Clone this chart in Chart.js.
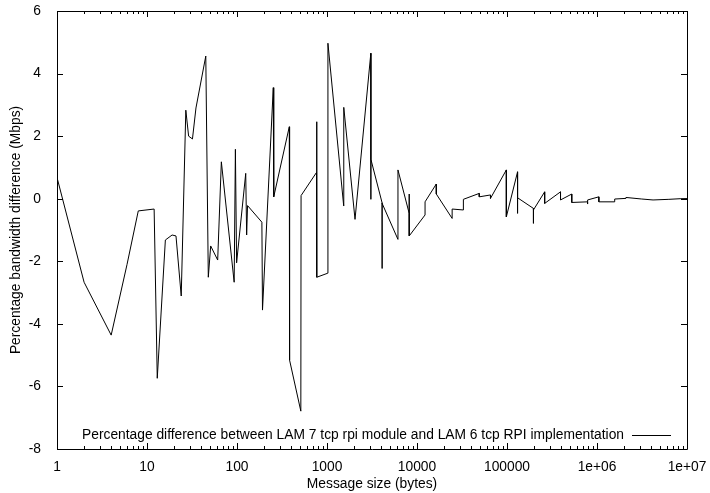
<!DOCTYPE html>
<html>
<head>
<meta charset="utf-8">
<script src="https://cdn.jsdelivr.net/npm/chart.js@4.4.1/dist/chart.umd.min.js"></script>
<style>
  html, body { margin: 0; padding: 0; background: #fff; }
  #wrap { width: 710px; height: 493px; }
</style>
</head>
<body>
<div id="wrap"><canvas id="grafico"></canvas></div>
<script>
// tamaños de mensaje (bytes) y diferencia porcentual
const tamanos = [1, 2, 4, 6, 8, 12, 13, 16, 19, 21, 24, 27, 29, 32, 35, 45, 48, 51, 61, 67,
  93, 96, 99, 125, 128, 131, 189, 192, 253, 256, 381, 384, 512, 515, 765, 768, 771,
  1021, 1024, 1533, 1536, 2048, 3069, 3072, 3075, 4093, 4096, 4099, 6141, 6144,
  8189, 8192, 8195, 12285, 12288, 16381, 16384, 24573, 24576, 32765, 32768,
  49149, 49152, 65533, 65536, 98301, 98304, 131069, 131072, 131075,
  196605, 196608, 196611, 262141, 262144, 393213, 393216, 524285, 524288,
  786429, 786432, 786435, 1048573, 1048576, 1572861, 1572864, 2097149, 2097152,
  3145728, 4194304, 6291456, 8388608, 12582912];

const diferencias = [0.68, -2.67, -4.36, -2.1, -0.39, -0.33, -5.74, -1.32, -1.16, -1.19, -3.11, 2.83, 2.0, 1.91, 2.9, 4.56, -2.51, -1.51, -1.96, 1.18,
  -2.67, 1.58, -2.05, 0.81, -1.16, -0.22, -0.75, -3.56, 3.55, 0.06, 2.3, -5.16, -6.79, 0.1, 0.84, 2.46, -2.51,
  -2.38, 4.97, -0.23, 2.92, -0.66, 4.65, -0.02, 1.26, -0.13, -2.23, -0.15, -1.3, 0.92,
  -0.47, 0.15, -1.19, -0.52, -0.1, 0.47, 0.15, -0.63, -0.33, -0.36, -0.02,
  0.17, 0.06, 0.12, 0.01, 0.92, -0.58, 0.86, -0.47, 0.03,
  -0.31, -0.79, -0.36, 0.22, -0.15, 0.22, -0.04, 0.15, -0.12,
  -0.1, -0.17, -0.04, 0.06, -0.1, -0.1, -0.01, 0.01, 0.04,
  -0.01, -0.04, -0.02, 0.0, 0.01];

const ticksX = [1, 10, 100, 1000, 10000, 100000, 1000000, 10000000];
const etiquetasX = ['1', '10', '100', '1000', '10000', '100000', '1e+06', '1e+07'];
const ticksY = [-8, -6, -4, -2, 0, 2, 4, 6];

const etiqueta = 'Percentage difference between LAM 7 tcp rpi module and LAM 6 tcp RPI implementation';
const fuente = { family: '"Liberation Sans", Arial, Helvetica, sans-serif', size: 13.8 };

// marco, marcas hacia adentro (estilo gnuplot) y leyenda dentro del area
const marcoPlugin = {
    id: 'marco',
    afterDraw(chart) {
        const ctx = chart.ctx;
        const a = chart.chartArea;
        const sx = chart.scales.x;
        const sy = chart.scales.y;
        ctx.save();
        ctx.strokeStyle = '#000';
        ctx.lineWidth = 1;
        ctx.beginPath();
        ctx.rect(Math.round(a.left) + 0.5, Math.round(a.top) + 0.5, Math.round(a.right - a.left), Math.round(a.bottom - a.top));
        ctx.stroke();

        ctx.beginPath();
        // marcas eje x (mayores y menores)
        for (let d = 0; d < 7; d++) {
            for (let m = 1; m <= 10; m++) {
                const v = m * Math.pow(10, d);
                const px = Math.round(sx.getPixelForValue(v)) + 0.5;
                const largo = (m === 1 || m === 10) ? 6 : 3;
                ctx.moveTo(px, a.bottom);
                ctx.lineTo(px, a.bottom - largo);
                ctx.moveTo(px, a.top);
                ctx.lineTo(px, a.top + largo);
            }
        }
        // marcas eje y
        ticksY.forEach(v => {
            const py = Math.round(sy.getPixelForValue(v)) + 0.5;
            ctx.moveTo(a.left, py);
            ctx.lineTo(a.left + 6, py);
            ctx.moveTo(a.right, py);
            ctx.lineTo(a.right - 6, py);
        });
        ctx.stroke();

        // leyenda
        const yLey = Math.round(a.bottom - 14) + 0.5;
        ctx.font = `${fuente.size}px ${fuente.family}`;
        ctx.fillStyle = '#000';
        ctx.textAlign = 'right';
        ctx.textBaseline = 'middle';
        ctx.fillText(chart.data.datasets[0].label, a.right - 63, yLey);
        ctx.beginPath();
        ctx.moveTo(a.right - 55, yLey);
        ctx.lineTo(a.right - 16, yLey);
        ctx.stroke();
        ctx.restore();
    }
};

const puntos = tamanos.map((t, i) => ({ x: t, y: diferencias[i] }));

new Chart(document.getElementById('grafico'), {
    type: 'line',
    data: {
        datasets: [{
            label: etiqueta,
            data: puntos,
            borderColor: '#000',
            backgroundColor: 'transparent',
            borderWidth: 1,
            pointRadius: 0,
            tension: 0
        }]
    },
    options: {
        responsive: true,
        maintainAspectRatio: false,
        animation: false,
        layout: { padding: { left: 0, right: 23, top: 11, bottom: 0 } },
        plugins: {
            legend: { display: false },
            tooltip: { enabled: false }
        },
        scales: {
            x: {
                type: 'logarithmic',
                min: 1,
                max: 10000000,
                grid: { display: false },
                border: { display: false },
                afterBuildTicks: (s) => { s.ticks = ticksX.map(v => ({ value: v })); },
                afterFit: (s) => { s.height = 44; s.paddingLeft = 0; s.paddingRight = 0; },
                ticks: {
                    color: '#000',
                    font: fuente,
                    padding: 2,
                    maxRotation: 0,
                    autoSkip: false,
                    callback: (v) => {
                        const i = ticksX.indexOf(v);
                        return i >= 0 ? etiquetasX[i] : '';
                    }
                },
                title: {
                    display: true,
                    text: 'Message size (bytes)',
                    color: '#000',
                    font: fuente,
                    padding: { top: 0, bottom: 1 }
                }
            },
            y: {
                min: -8,
                max: 6,
                grid: { display: false },
                border: { display: false },
                afterBuildTicks: (s) => { s.ticks = ticksY.map(v => ({ value: v })); },
                afterFit: (s) => { s.width = 57; s.paddingTop = 0; s.paddingBottom = 0; },
                ticks: {
                    color: '#000',
                    font: fuente,
                    padding: 8
                },
                title: {
                    display: true,
                    text: 'Percentage bandwidth difference (Mbps)',
                    color: '#000',
                    font: fuente,
                    padding: { top: 8, bottom: 0 }
                }
            }
        }
    },
    plugins: [marcoPlugin]
});
</script>
</body>
</html>
